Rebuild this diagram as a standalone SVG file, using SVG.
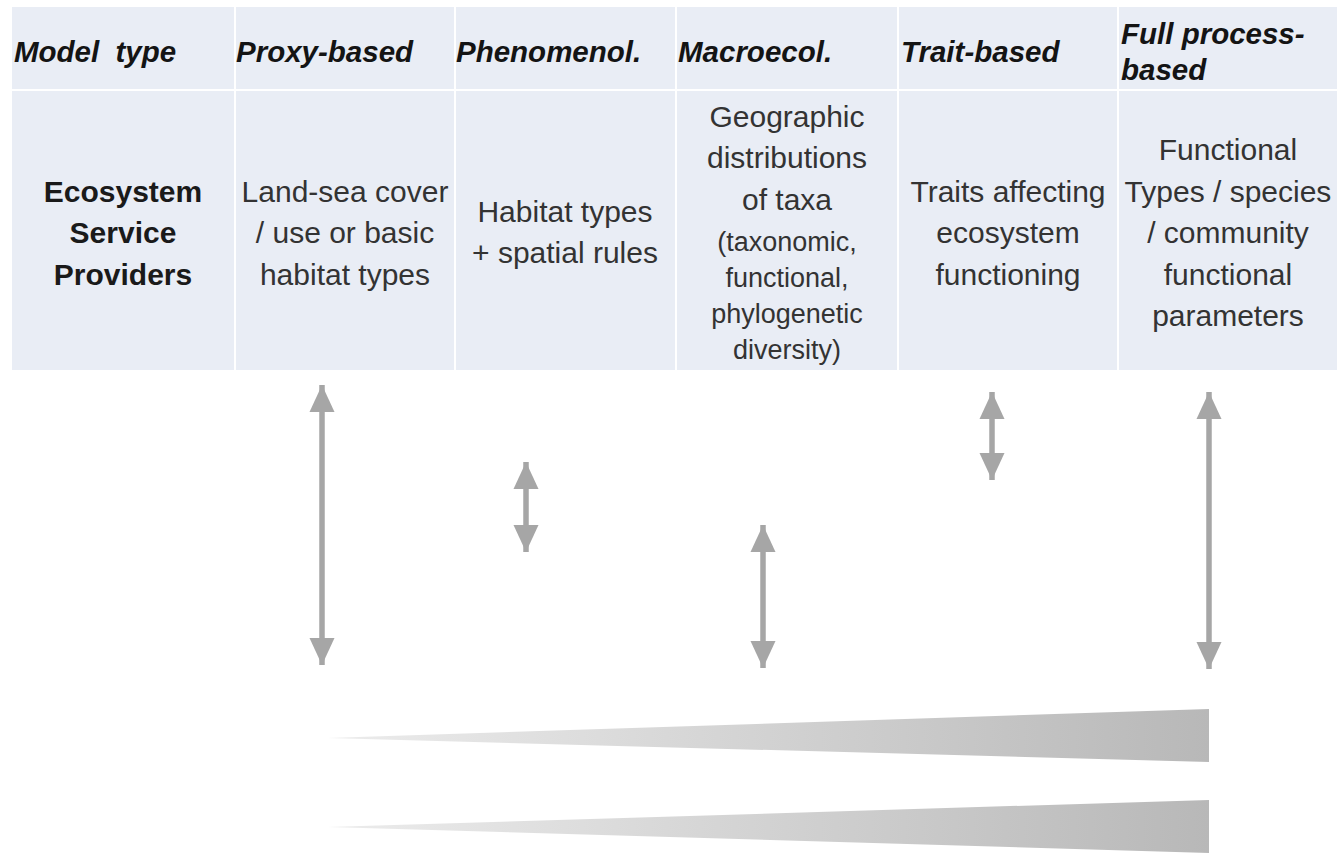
<svg xmlns="http://www.w3.org/2000/svg" width="1337" height="854" viewBox="0 0 1337 854">
<style>
.cell{fill:#e9edf5}
.div{stroke:#ffffff;stroke-width:2}
.hd{font-family:"Liberation Sans",Arial,sans-serif;font-size:29.5px;font-weight:bold;font-style:italic;fill:#141414}
.tx{font-family:"Liberation Sans",Arial,sans-serif;font-size:30px;fill:#333333;text-anchor:middle}
.sm{font-size:27px}
.bd{font-weight:bold;fill:#1a1a1a}
.arr{stroke:#a6a6a6;stroke-width:5.5;fill:none;marker-start:url(#head);marker-end:url(#head)}
</style>
<defs>
<marker id="head" markerUnits="userSpaceOnUse" markerWidth="28" markerHeight="26" refX="27" refY="12.5" orient="auto-start-reverse" viewBox="0 0 28 25">
<path d="M0,0 L27,12.5 L0,25 Z" fill="#a6a6a6"/>
</marker>
<linearGradient id="wg" x1="0" y1="0" x2="1" y2="0">
<stop offset="0" stop-color="#ececec"/>
<stop offset="1" stop-color="#b8b8b8"/>
</linearGradient>
</defs>
<rect width="1337" height="854" fill="#ffffff"/>
<g id="table">
<rect class="cell" x="12" y="7" width="1325" height="363"/>
<line class="div" x1="12" y1="90" x2="1337" y2="90"/>
<line class="div" x1="235" y1="7" x2="235" y2="370"/>
<line class="div" x1="455" y1="7" x2="455" y2="370"/>
<line class="div" x1="676" y1="7" x2="676" y2="370"/>
<line class="div" x1="898" y1="7" x2="898" y2="370"/>
<line class="div" x1="1118" y1="7" x2="1118" y2="370"/>
</g>
<g id="headers">
<text class="hd" x="14" y="62" word-spacing="8">Model type</text>
<text class="hd" x="236" y="62">Proxy-based</text>
<text class="hd" x="456" y="62">Phenomenol.</text>
<text class="hd" x="678" y="62">Macroecol.</text>
<text class="hd" x="901" y="62">Trait-based</text>
<text class="hd" x="1121" y="44">Full process-</text>
<text class="hd" x="1121" y="80">based</text>
</g>
<g id="esp">
<text class="tx bd" x="123" y="202">Ecosystem</text>
<text class="tx bd" x="123" y="243">Service</text>
<text class="tx bd" x="123" y="285">Providers</text>
</g>
<g id="proxy">
<text class="tx" x="345" y="202">Land-sea cover</text>
<text class="tx" x="345" y="243">/ use or basic</text>
<text class="tx" x="345" y="285">habitat types</text>
</g>
<g id="phenomenol">
<text class="tx" x="565" y="222">Habitat types</text>
<text class="tx" x="565" y="263">+ spatial rules</text>
</g>
<g id="macroecol">
<text class="tx" x="787" y="127">Geographic</text>
<text class="tx" x="787" y="168">distributions</text>
<text class="tx" x="787" y="210">of taxa</text>
<text class="tx sm" x="787" y="251">(taxonomic,</text>
<text class="tx sm" x="787" y="287">functional,</text>
<text class="tx sm" x="787" y="323">phylogenetic</text>
<text class="tx sm" x="787" y="359">diversity)</text>
</g>
<g id="trait">
<text class="tx" x="1008" y="202">Traits affecting</text>
<text class="tx" x="1008" y="243">ecosystem</text>
<text class="tx" x="1008" y="285">functioning</text>
</g>
<g id="process">
<text class="tx" x="1228" y="160">Functional</text>
<text class="tx" x="1228" y="202">Types / species</text>
<text class="tx" x="1228" y="243">/ community</text>
<text class="tx" x="1228" y="285">functional</text>
<text class="tx" x="1228" y="326">parameters</text>
</g>
<g id="connectors">
<line class="arr" x1="322" y1="385" x2="322" y2="665"/>
<line class="arr" x1="526" y1="462" x2="526" y2="552"/>
<line class="arr" x1="763" y1="525" x2="763" y2="668"/>
<line class="arr" x1="992" y1="392" x2="992" y2="480"/>
<line class="arr" x1="1209" y1="392" x2="1209" y2="669"/>
</g>
<g id="wedges">
<polygon points="328,738 1209,709 1209,762" fill="url(#wg)"/>
<polygon points="328,827 1209,800 1209,853" fill="url(#wg)"/>
</g>
</svg>
